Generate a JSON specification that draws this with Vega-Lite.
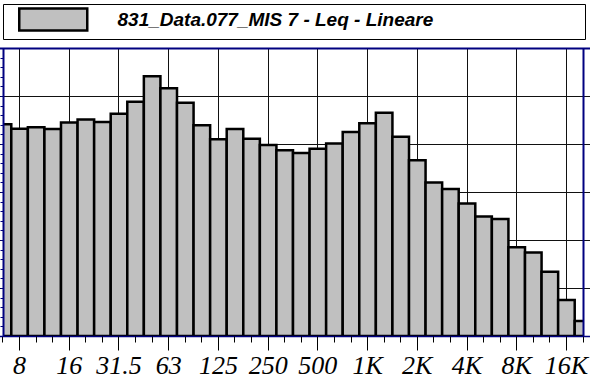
{
  "$schema": "https://vega.github.io/schema/vega-lite/v6.json",
  "width": 580,
  "height": 288,
  "autosize": {"type": "none"},
  "padding": {"left": 3, "top": 48, "right": 7, "bottom": 42},
  "background": "white",
  "config": {"view": {"stroke": null}},
  "data": {
    "values": [
      {"band": "6.3", "level": 64.1, "series": "831_Data.077_MIS 7 - Leq - Lineare"},
      {"band": "8", "level": 63.2, "series": "831_Data.077_MIS 7 - Leq - Lineare"},
      {"band": "10", "level": 63.5, "series": "831_Data.077_MIS 7 - Leq - Lineare"},
      {"band": "12.5", "level": 63.1, "series": "831_Data.077_MIS 7 - Leq - Lineare"},
      {"band": "16", "level": 64.5, "series": "831_Data.077_MIS 7 - Leq - Lineare"},
      {"band": "20", "level": 65.1, "series": "831_Data.077_MIS 7 - Leq - Lineare"},
      {"band": "25", "level": 64.6, "series": "831_Data.077_MIS 7 - Leq - Lineare"},
      {"band": "31.5", "level": 66.3, "series": "831_Data.077_MIS 7 - Leq - Lineare"},
      {"band": "40", "level": 68.8, "series": "831_Data.077_MIS 7 - Leq - Lineare"},
      {"band": "50", "level": 74.1, "series": "831_Data.077_MIS 7 - Leq - Lineare"},
      {"band": "63", "level": 71.6, "series": "831_Data.077_MIS 7 - Leq - Lineare"},
      {"band": "80", "level": 68.6, "series": "831_Data.077_MIS 7 - Leq - Lineare"},
      {"band": "100", "level": 63.9, "series": "831_Data.077_MIS 7 - Leq - Lineare"},
      {"band": "125", "level": 61.0, "series": "831_Data.077_MIS 7 - Leq - Lineare"},
      {"band": "160", "level": 63.1, "series": "831_Data.077_MIS 7 - Leq - Lineare"},
      {"band": "200", "level": 61.1, "series": "831_Data.077_MIS 7 - Leq - Lineare"},
      {"band": "250", "level": 59.8, "series": "831_Data.077_MIS 7 - Leq - Lineare"},
      {"band": "315", "level": 58.7, "series": "831_Data.077_MIS 7 - Leq - Lineare"},
      {"band": "400", "level": 58.1, "series": "831_Data.077_MIS 7 - Leq - Lineare"},
      {"band": "500", "level": 59.0, "series": "831_Data.077_MIS 7 - Leq - Lineare"},
      {"band": "630", "level": 60.1, "series": "831_Data.077_MIS 7 - Leq - Lineare"},
      {"band": "800", "level": 62.5, "series": "831_Data.077_MIS 7 - Leq - Lineare"},
      {"band": "1K", "level": 64.3, "series": "831_Data.077_MIS 7 - Leq - Lineare"},
      {"band": "1.25K", "level": 66.5, "series": "831_Data.077_MIS 7 - Leq - Lineare"},
      {"band": "1.6K", "level": 61.5, "series": "831_Data.077_MIS 7 - Leq - Lineare"},
      {"band": "2K", "level": 56.6, "series": "831_Data.077_MIS 7 - Leq - Lineare"},
      {"band": "2.5K", "level": 52.0, "series": "831_Data.077_MIS 7 - Leq - Lineare"},
      {"band": "3.15K", "level": 50.6, "series": "831_Data.077_MIS 7 - Leq - Lineare"},
      {"band": "4K", "level": 47.6, "series": "831_Data.077_MIS 7 - Leq - Lineare"},
      {"band": "5K", "level": 44.9, "series": "831_Data.077_MIS 7 - Leq - Lineare"},
      {"band": "6.3K", "level": 44.4, "series": "831_Data.077_MIS 7 - Leq - Lineare"},
      {"band": "8K", "level": 38.5, "series": "831_Data.077_MIS 7 - Leq - Lineare"},
      {"band": "10K", "level": 37.4, "series": "831_Data.077_MIS 7 - Leq - Lineare"},
      {"band": "12.5K", "level": 33.4, "series": "831_Data.077_MIS 7 - Leq - Lineare"},
      {"band": "16K", "level": 27.5, "series": "831_Data.077_MIS 7 - Leq - Lineare"},
      {"band": "20K", "level": 23.1, "series": "831_Data.077_MIS 7 - Leq - Lineare"}
    ]
  },
  "resolve": {"axis": {"x": "independent", "y": "independent"}},
  "layer": [
    {
      "mark": {"type": "bar", "clip": true, "stroke": "black", "strokeWidth": 2.5},
      "encoding": {
        "x": {
          "field": "band", "type": "ordinal", "sort": null,
          "scale": {"paddingInner": 0, "paddingOuter": 0, "range": [-8.286, 588.286]},
          "axis": {
            "orient": "bottom", "title": null, "grid": true, "gridColor": "#111111", "gridWidth": 1,
            "ticks": false, "labels": false, "domain": false, "bandPosition": 0.5, "zindex": 0,
            "values": ["8", "16", "31.5", "63", "125", "250", "500", "1K", "2K", "4K", "8K", "16K"]
          }
        },
        "y": {
          "field": "level", "type": "quantitative", "stack": null,
          "scale": {"domain": [20, 80], "nice": false, "zero": false},
          "axis": {
            "orient": "left", "title": null, "grid": true, "gridColor": "#111111", "gridWidth": 1,
            "ticks": false, "labels": false, "domain": false, "zindex": 0,
            "values": [30, 40, 50, 60, 70]
          }
        },
        "fill": {
          "field": "series", "type": "nominal",
          "scale": {"range": ["#c0c0c0"]},
          "legend": {
            "orient": "none", "legendX": 0, "legendY": -44, "title": null,
            "fillColor": "white", "strokeColor": "black", "padding": 3,
            "symbolType": "M-3.0909,-1H3.0909V1H-3.0909Z", "symbolSize": 484,
            "symbolStrokeColor": "black", "symbolStrokeWidth": 2.5, "symbolOpacity": 1,
            "symbolOffset": 34.75, "labelOffset": 51.75, "labelLimit": 0,
            "labelExpr": "pad(datum.label, 62, '\u00a0') + '\u200b'",
            "labelFont": "Liberation Sans", "labelFontSize": 19, "labelFontStyle": "italic",
            "labelFontWeight": "bold", "labelColor": "black"
          }
        }
      }
    },
    {
      "mark": {"type": "bar", "opacity": 0},
      "encoding": {
        "x": {
          "field": "band", "type": "ordinal", "sort": null,
          "axis": {
            "orient": "bottom", "title": null, "grid": false, "bandPosition": 0.5, "zindex": 1,
            "domain": true, "domainColor": "#000080", "domainWidth": 1.5,
            "ticks": true, "tickSize": 14, "tickColor": "black", "tickWidth": 1,
            "labels": true, "labelFont": "Liberation Serif", "labelFontStyle": "italic",
            "labelFontSize": 26, "labelColor": "black", "labelBaseline": "alphabetic",
            "labelPadding": 23, "labelAngle": 0, "labelOverlap": false, "labelFlush": false,
            "values": ["8", "16", "31.5", "63", "125", "250", "500", "1K", "2K", "4K", "8K", "16K"]
          }
        },
        "y": {
          "field": "level", "type": "quantitative", "stack": null,
          "axis": {
            "orient": "left", "title": null, "grid": false, "zindex": 1,
            "domain": true, "domainColor": "#000080", "domainWidth": 2,
            "ticks": true, "tickSize": 3, "tickColor": "#000080", "tickWidth": 1, "labels": false,
            "values": [20, 22, 24, 26, 28, 30, 32, 34, 36, 38, 40, 42, 44, 46, 48, 50, 52, 54, 56, 58, 60, 62, 64, 66, 68, 70, 72, 74, 76, 78, 80]
          }
        }
      }
    },
    {
      "mark": {"type": "bar", "opacity": 0},
      "encoding": {
        "x": {
          "field": "band", "type": "ordinal", "sort": null,
          "axis": {
            "orient": "bottom", "title": null, "grid": false, "bandPosition": 0.5, "zindex": 1,
            "domain": false, "labels": false,
            "ticks": true, "tickSize": 6, "tickColor": "black", "tickWidth": 1
          }
        },
        "y": {
          "field": "level", "type": "quantitative", "stack": null,
          "axis": {
            "orient": "right", "title": null, "grid": false, "zindex": 1,
            "domain": true, "domainColor": "#000080", "domainWidth": 2,
            "ticks": false, "labels": false
          }
        }
      }
    },
    {
      "mark": {"type": "bar", "opacity": 0},
      "encoding": {
        "x": {
          "field": "band", "type": "ordinal", "sort": null,
          "axis": {
            "orient": "top", "title": null, "grid": false, "zindex": 1,
            "domain": true, "domainColor": "#000080", "domainWidth": 2,
            "ticks": false, "labels": false
          }
        },
        "y": {"field": "level", "type": "quantitative", "stack": null, "axis": null}
      }
    }
  ]
}
